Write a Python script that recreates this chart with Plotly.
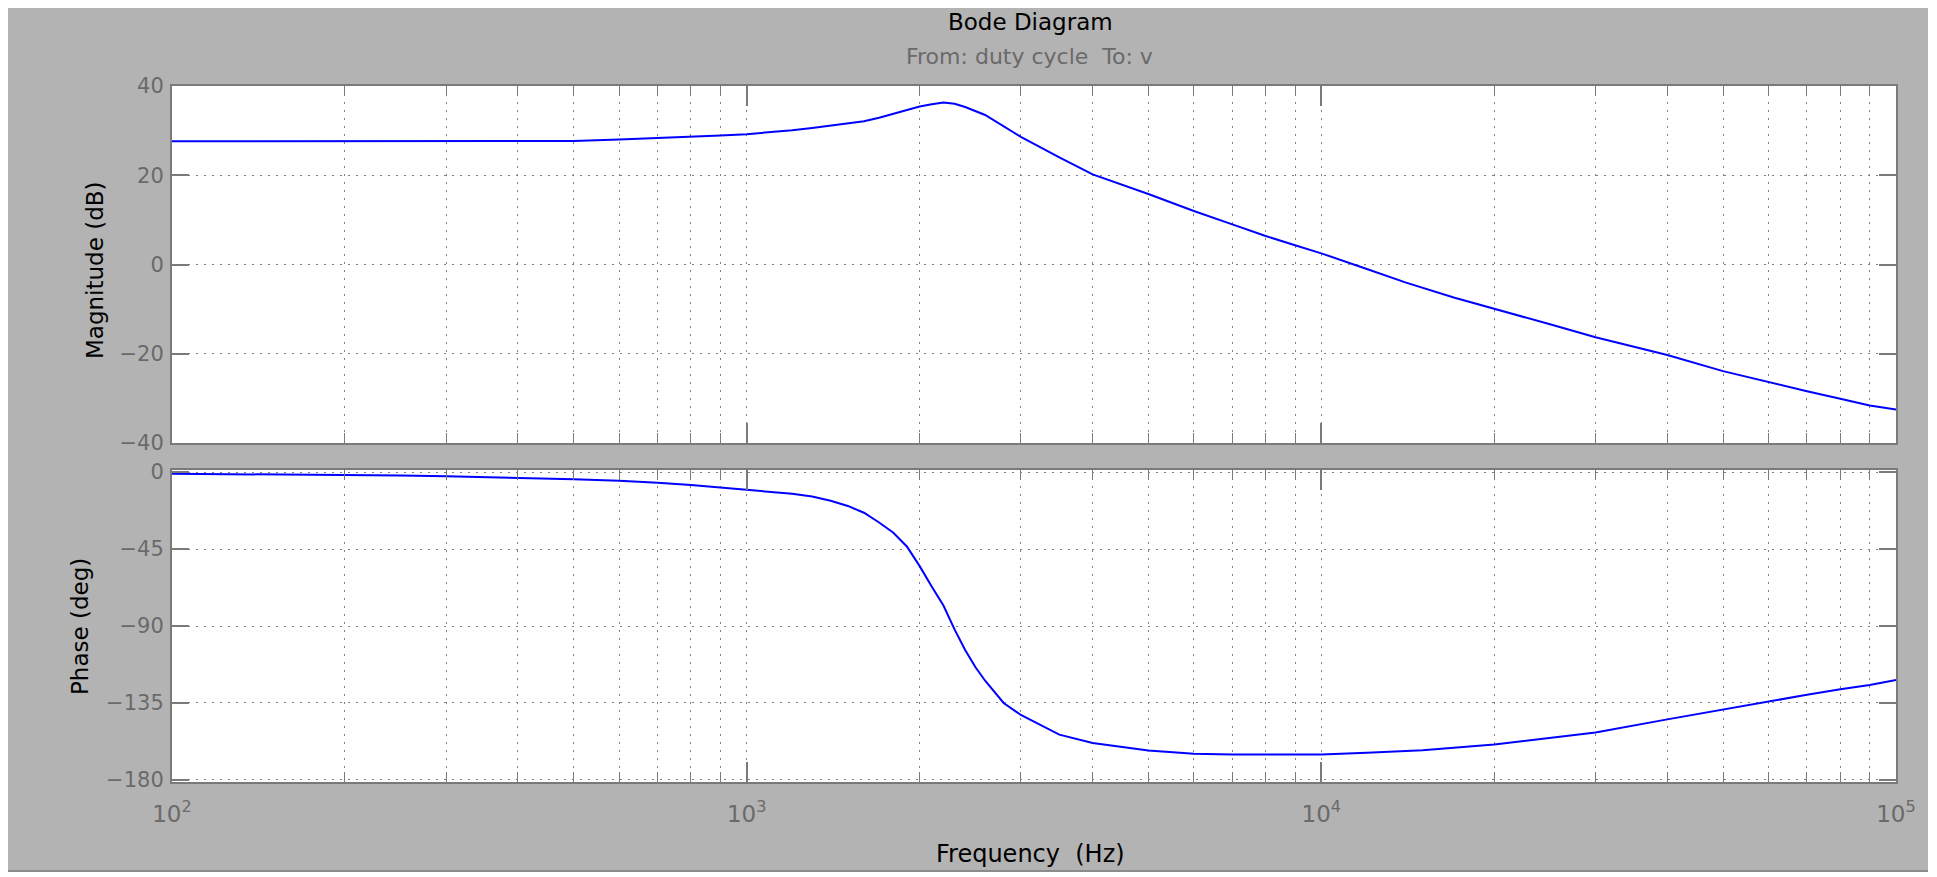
import plotly.graph_objects as go

# ---------------- data ----------------
freq_mag = [100, 200, 300, 400, 500, 600, 700, 800, 900, 1000, 1100, 1200, 1300,
            1400, 1500, 1600, 1700, 1800, 1900, 2000, 2100, 2200, 2300, 2400, 2600,
            2800, 3000, 3500, 4000, 5000, 6000, 7000, 8000, 9000, 10000, 12000,
            14000, 17000, 20000, 25000, 30000, 40000, 50000, 60000, 70000, 80000,
            90000, 100000]
mag_db = [27.6, 27.6, 27.6, 27.6, 27.7, 28.0, 28.3, 28.6, 28.9, 29.2, 29.6, 30.1, 30.6,
          31.1, 31.5, 32.1, 32.9, 33.8, 34.7, 35.4, 35.9, 36.3, 36.0, 35.3, 33.5,
          31.0, 28.6, 24.0, 20.2, 15.8, 12.0, 9.0, 6.4, 4.3, 2.5, -1.0,
          -4.0, -7.4, -10.0, -13.4, -16.3, -20.3, -23.9, -26.4, -28.4, -30.1,
          -31.6, -32.5]

freq_ph = [100, 150, 200, 250, 300, 400, 500, 600, 700, 800, 900, 1000, 1100, 1200,
           1300, 1400, 1500, 1600, 1700, 1800, 1900, 2000, 2100, 2200, 2300, 2400,
           2500, 2600, 2800, 3000, 3500, 4000, 5000, 6000, 7000, 8000, 10000, 12000,
           15000, 20000, 30000, 40000, 50000, 60000, 70000, 80000, 90000, 100000]
phase_deg = [-1.0, -1.3, -1.6, -2.0, -2.4, -3.2, -4.2, -5.1, -6.2, -7.6, -9.0, -10.4,
             -11.3, -12.7, -14.3, -16.8, -19.8, -23.8, -29.5, -35.5, -43.5, -55.0,
             -67.0, -78.0, -92.0, -104.0, -114.0, -122.0, -135.0, -142.0, -153.5,
             -158.4, -162.8, -164.7, -165.1, -165.2, -165.1, -164.1, -162.6, -159.3,
             -152.3, -144.6, -138.8, -134.0, -130.2, -127.0, -124.5, -121.6]

x_major = [100, 1000, 10000, 100000]
x_major_text = ["10<sup>2</sup>", "10<sup>3</sup>", "10<sup>4</sup>", "10<sup>5</sup>"]
x_minor = [d * k for d in (100, 1000, 10000) for k in range(2, 10)]
mag_ticks = [-40, -20, 0, 20, 40]
phase_ticks = [-180, -135, -90, -45, 0]

title_text = "Bode Diagram"
subtitle_text = "From: duty cycle  To: v"

# ---------------- style ----------------
FONT = "DejaVu Sans"
BG = "#b3b3b3"
AXC = "#7a7a7a"
GRIDC = "#808080"
TICKFONT = dict(family=FONT, size=21, color="#6a6a6a")
XTICKFONT = dict(family=FONT, size=23, color="#6a6a6a")
LINEC = "#0000ff"

fig = go.Figure()
fig.add_trace(go.Scatter(x=freq_mag, y=mag_db, mode="lines",
                         line=dict(color=LINEC, width=2), xaxis="x", yaxis="y",
                         showlegend=False, hoverinfo="skip"))
fig.add_trace(go.Scatter(x=freq_ph, y=phase_deg, mode="lines",
                         line=dict(color=LINEC, width=2), xaxis="x2", yaxis="y2",
                         showlegend=False, hoverinfo="skip"))

def xaxis_style(show_labels, anchor):
    return dict(
        type="log", range=[2, 5], anchor=anchor,
        tickmode="array", tickvals=x_major, ticktext=x_major_text,
        showticklabels=show_labels, tickfont=XTICKFONT,
        ticks="inside", ticklen=20, tickwidth=2, tickcolor=AXC,
        showline=True, linecolor=AXC, linewidth=2, mirror="ticks",
        showgrid=True, gridcolor=GRIDC, gridwidth=1, griddash="2px,6px",
        zeroline=False, ticklabelstandoff=10,
        minor=dict(tickvals=x_minor, ticks="inside", ticklen=10, tickwidth=1,
                   tickcolor=AXC, showgrid=True, gridcolor=GRIDC, gridwidth=1,
                   griddash="2px,6px"),
    )

def yaxis_style(rng, vals, domain, anchor):
    return dict(
        range=rng, domain=domain, anchor=anchor,
        tickmode="array", tickvals=vals, tickfont=TICKFONT,
        ticks="inside", ticklen=17, tickwidth=2, tickcolor=AXC,
        showline=True, linecolor=AXC, linewidth=2, mirror="ticks",
        showgrid=True, gridcolor=GRIDC, gridwidth=1, griddash="2px,6px",
        zeroline=False, ticklabelstandoff=2,
    )

W, HT = 1920, 864
PLOT_L, PLOT_R = 164, 1888
PLOT_TOP, PLOT_BOT = 78, 774
H = PLOT_BOT - PLOT_TOP
PW = PLOT_R - PLOT_L

def py(fig_y):
    return (PLOT_BOT - fig_y) / H

def px(fig_x):
    return (fig_x - PLOT_L) / PW

def ann(text, x, y, size, color, angle=0):
    return dict(text=text, x=px(x), y=py(y), xref="paper", yref="paper",
                xanchor="center", yanchor="middle", showarrow=False,
                textangle=angle, font=dict(family=FONT, size=size, color=color))

fig.update_layout(
    width=W, height=HT,
    margin=dict(l=PLOT_L, r=W - PLOT_R, t=PLOT_TOP, b=HT - PLOT_BOT, pad=0),
    paper_bgcolor=BG, plot_bgcolor="white",
    xaxis=xaxis_style(False, "y"),
    xaxis2=xaxis_style(True, "y2") | dict(matches="x"),
    yaxis=yaxis_style([-40, 40], mag_ticks, [py(435), 1.0], "x"),
    yaxis2=yaxis_style([-181.2, 1.2], phase_ticks, [0.0, py(462)], "x2"),
    font=dict(family=FONT),
    annotations=[
        ann(title_text, 1022, 14, 23, "black"),
        ann(subtitle_text, 1021, 49, 22, "#6a6a6a"),
        ann("Magnitude (dB)", 87, 262, 23, "black", -90),
        ann("Phase (deg)", 72, 619, 23, "black", -90),
        ann("Frequency  (Hz)", 1022, 846, 24, "black"),
    ],
    shapes=[
        dict(type="line", xref="paper", yref="paper", x0=px(0), x1=px(W),
             y0=py(HT - 1), y1=py(HT - 1), line=dict(color="#8c8c8c", width=2),
             layer="above"),
    ],
)

fig.write_html("out.html")
